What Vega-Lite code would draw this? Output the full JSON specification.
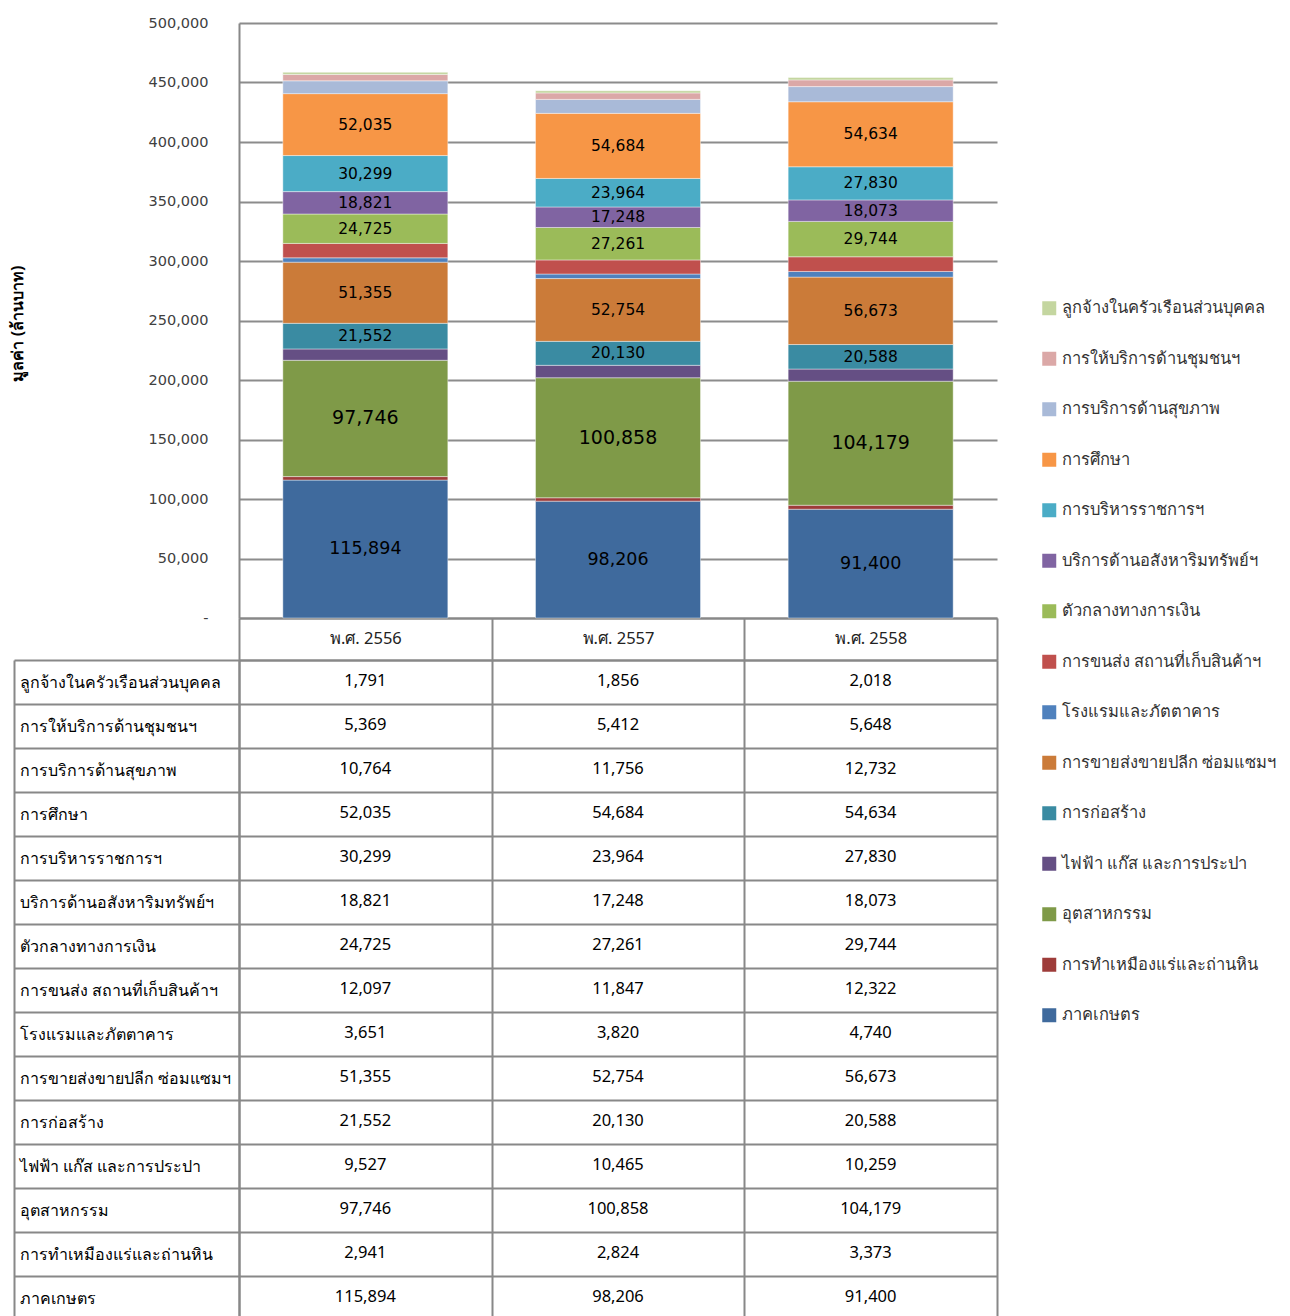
{
  "$schema": "https://vega.github.io/schema/vega-lite/v6.json",
  "padding": {"left": 9, "top": 15, "right": 0, "bottom": 0},
  "background": "white",
  "config": {"view": {"stroke": null}, "font": "Noto Sans"},
  "spacing": -8,
  "datasets": {
    "d": [
      {"year": "พ.ศ. 2556", "k": 1, "cat": "ภาคเกษตร", "v": 115894},
      {"year": "พ.ศ. 2557", "k": 1, "cat": "ภาคเกษตร", "v": 98206},
      {"year": "พ.ศ. 2558", "k": 1, "cat": "ภาคเกษตร", "v": 91400},
      {"year": "พ.ศ. 2556", "k": 2, "cat": "การทำเหมืองแร่และถ่านหิน", "v": 2941},
      {"year": "พ.ศ. 2557", "k": 2, "cat": "การทำเหมืองแร่และถ่านหิน", "v": 2824},
      {"year": "พ.ศ. 2558", "k": 2, "cat": "การทำเหมืองแร่และถ่านหิน", "v": 3373},
      {"year": "พ.ศ. 2556", "k": 3, "cat": "อุตสาหกรรม", "v": 97746},
      {"year": "พ.ศ. 2557", "k": 3, "cat": "อุตสาหกรรม", "v": 100858},
      {"year": "พ.ศ. 2558", "k": 3, "cat": "อุตสาหกรรม", "v": 104179},
      {"year": "พ.ศ. 2556", "k": 4, "cat": "ไฟฟ้า แก๊ส และการประปา", "v": 9527},
      {"year": "พ.ศ. 2557", "k": 4, "cat": "ไฟฟ้า แก๊ส และการประปา", "v": 10465},
      {"year": "พ.ศ. 2558", "k": 4, "cat": "ไฟฟ้า แก๊ส และการประปา", "v": 10259},
      {"year": "พ.ศ. 2556", "k": 5, "cat": "การก่อสร้าง", "v": 21552},
      {"year": "พ.ศ. 2557", "k": 5, "cat": "การก่อสร้าง", "v": 20130},
      {"year": "พ.ศ. 2558", "k": 5, "cat": "การก่อสร้าง", "v": 20588},
      {"year": "พ.ศ. 2556", "k": 6, "cat": "การขายส่งขายปลีก ซ่อมแซมฯ", "v": 51355},
      {"year": "พ.ศ. 2557", "k": 6, "cat": "การขายส่งขายปลีก ซ่อมแซมฯ", "v": 52754},
      {"year": "พ.ศ. 2558", "k": 6, "cat": "การขายส่งขายปลีก ซ่อมแซมฯ", "v": 56673},
      {"year": "พ.ศ. 2556", "k": 7, "cat": "โรงแรมและภัตตาคาร", "v": 3651},
      {"year": "พ.ศ. 2557", "k": 7, "cat": "โรงแรมและภัตตาคาร", "v": 3820},
      {"year": "พ.ศ. 2558", "k": 7, "cat": "โรงแรมและภัตตาคาร", "v": 4740},
      {"year": "พ.ศ. 2556", "k": 8, "cat": "การขนส่ง สถานที่เก็บสินค้าฯ", "v": 12097},
      {"year": "พ.ศ. 2557", "k": 8, "cat": "การขนส่ง สถานที่เก็บสินค้าฯ", "v": 11847},
      {"year": "พ.ศ. 2558", "k": 8, "cat": "การขนส่ง สถานที่เก็บสินค้าฯ", "v": 12322},
      {"year": "พ.ศ. 2556", "k": 9, "cat": "ตัวกลางทางการเงิน", "v": 24725},
      {"year": "พ.ศ. 2557", "k": 9, "cat": "ตัวกลางทางการเงิน", "v": 27261},
      {"year": "พ.ศ. 2558", "k": 9, "cat": "ตัวกลางทางการเงิน", "v": 29744},
      {"year": "พ.ศ. 2556", "k": 10, "cat": "บริการด้านอสังหาริมทรัพย์ฯ", "v": 18821},
      {"year": "พ.ศ. 2557", "k": 10, "cat": "บริการด้านอสังหาริมทรัพย์ฯ", "v": 17248},
      {"year": "พ.ศ. 2558", "k": 10, "cat": "บริการด้านอสังหาริมทรัพย์ฯ", "v": 18073},
      {"year": "พ.ศ. 2556", "k": 11, "cat": "การบริหารราชการฯ", "v": 30299},
      {"year": "พ.ศ. 2557", "k": 11, "cat": "การบริหารราชการฯ", "v": 23964},
      {"year": "พ.ศ. 2558", "k": 11, "cat": "การบริหารราชการฯ", "v": 27830},
      {"year": "พ.ศ. 2556", "k": 12, "cat": "การศึกษา", "v": 52035},
      {"year": "พ.ศ. 2557", "k": 12, "cat": "การศึกษา", "v": 54684},
      {"year": "พ.ศ. 2558", "k": 12, "cat": "การศึกษา", "v": 54634},
      {"year": "พ.ศ. 2556", "k": 13, "cat": "การบริการด้านสุขภาพ", "v": 10764},
      {"year": "พ.ศ. 2557", "k": 13, "cat": "การบริการด้านสุขภาพ", "v": 11756},
      {"year": "พ.ศ. 2558", "k": 13, "cat": "การบริการด้านสุขภาพ", "v": 12732},
      {"year": "พ.ศ. 2556", "k": 14, "cat": "การให้บริการด้านชุมชนฯ", "v": 5369},
      {"year": "พ.ศ. 2557", "k": 14, "cat": "การให้บริการด้านชุมชนฯ", "v": 5412},
      {"year": "พ.ศ. 2558", "k": 14, "cat": "การให้บริการด้านชุมชนฯ", "v": 5648},
      {"year": "พ.ศ. 2556", "k": 15, "cat": "ลูกจ้างในครัวเรือนส่วนบุคคล", "v": 1791},
      {"year": "พ.ศ. 2557", "k": 15, "cat": "ลูกจ้างในครัวเรือนส่วนบุคคล", "v": 1856},
      {"year": "พ.ศ. 2558", "k": 15, "cat": "ลูกจ้างในครัวเรือนส่วนบุคคล", "v": 2018}
    ]
  },
  "vconcat": [
    {
      "width": 758,
      "height": 595,
      "data": {"name": "d"},
      "encoding": {
        "x": {
          "field": "year", "type": "nominal",
          "scale": {"paddingInner": 0.347, "paddingOuter": 0.1735},
          "axis": {"labels": false, "ticks": false, "title": null, "domainColor": "#888888", "domainWidth": 2, "minExtent": 0}
        }
      },
      "layer": [
        {
          "mark": {"type": "bar", "stroke": "#ffffff", "strokeWidth": 0.6, "strokeOpacity": 0.7},
          "encoding": {
            "y": {
              "field": "v", "type": "quantitative", "stack": "zero",
              "scale": {"domain": [0, 500000], "nice": false},
              "axis": {
                "values": [0, 50000, 100000, 150000, 200000, 250000, 300000, 350000, 400000, 450000, 500000],
                "title": "มูลค่า (ล้านบาท)", "titleFontSize": 16, "titleFontWeight": "bold", "titleColor": "#000000",
                "titleX": -214, "titleY": 300,
                "labelFont": "DejaVu Sans", "labelFontSize": 14.5, "labelColor": "#404040", "labelPadding": 31,
                "labelExpr": "datum.value === 0 ? '-\u2007\u2009' : datum.label",
                "ticks": false, "domainColor": "#888888", "domainWidth": 2,
                "grid": true, "gridColor": "#8c8c8c", "gridWidth": 1.8
              }
            },
            "color": {
              "field": "cat", "type": "nominal",
              "scale": {
                "domain": ["ลูกจ้างในครัวเรือนส่วนบุคคล", "การให้บริการด้านชุมชนฯ", "การบริการด้านสุขภาพ", "การศึกษา", "การบริหารราชการฯ", "บริการด้านอสังหาริมทรัพย์ฯ", "ตัวกลางทางการเงิน", "การขนส่ง สถานที่เก็บสินค้าฯ", "โรงแรมและภัตตาคาร", "การขายส่งขายปลีก ซ่อมแซมฯ", "การก่อสร้าง", "ไฟฟ้า แก๊ส และการประปา", "อุตสาหกรรม", "การทำเหมืองแร่และถ่านหิน", "ภาคเกษตร"],
                "range": ["#c4d6a0", "#dba8a7", "#a9bad8", "#f79646", "#4bacc6", "#8064a2", "#9bbb59", "#c0504d", "#4f81bd", "#cb7b39", "#3a8ba2", "#654f84", "#7f9a48", "#9e3c3a", "#3f6a9d"]
              },
              "legend": {
                "orient": "none", "legendX": 802, "legendY": 277, "title": null,
                "symbolType": "square", "symbolSize": 196, "symbolStrokeWidth": 0,
                "labelFontSize": 16.5, "labelColor": "#333333", "labelLimit": 320,
                "rowPadding": 33.5, "labelOffset": 4
              }
            },
            "order": {"field": "k", "type": "quantitative", "sort": "ascending"}
          }
        },
        {
          "mark": {"type": "text", "font": "DejaVu Sans", "color": "#000000"},
          "encoding": {
            "y": {"field": "v", "type": "quantitative", "stack": "zero", "bandPosition": 0.5},
            "detail": {"field": "cat", "type": "nominal"},
            "order": {"field": "k", "type": "quantitative", "sort": "ascending"},
            "text": {
              "condition": {"test": "datum.v > 15000", "field": "v", "type": "quantitative", "format": ","},
              "value": ""
            },
            "size": {
              "condition": [
                {"test": "datum.cat === 'อุตสาหกรรม'", "value": 19},
                {"test": "datum.cat === 'ภาคเกษตร'", "value": 17.5}
              ],
              "value": 15.5
            }
          }
        }
      ]
    },
    {
      "width": 758,
      "height": 660,
      "data": {"name": "d"},
      "resolve": {"scale": {"y": "independent"}, "axis": {"y": "independent"}},
      "layer": [
        {
          "mark": {"type": "text", "font": "Noto Sans", "fontSize": 16.5, "color": "#000000", "dy": -1},
          "encoding": {
            "x": {
              "field": "year", "type": "nominal",
              "scale": {"paddingInner": 0, "paddingOuter": 0},
              "axis": {
                "orient": "top", "title": null, "tickBand": "extent", "tickSize": 42, "tickColor": "#888888", "tickWidth": 2,
                "labelPadding": -20, "labelBaseline": "middle", "labelAngle": 0, "labelFontSize": 16.5, "labelColor": "#222222", "labelFont": "Noto Sans",
                "domainColor": "#888888", "domainWidth": 2,
                "grid": true, "gridColor": "#888888", "gridWidth": 2, "gridOpacity": 1
              }
            },
            "y": {
              "field": "cat", "type": "nominal",
              "sort": ["ลูกจ้างในครัวเรือนส่วนบุคคล", "การให้บริการด้านชุมชนฯ", "การบริการด้านสุขภาพ", "การศึกษา", "การบริหารราชการฯ", "บริการด้านอสังหาริมทรัพย์ฯ", "ตัวกลางทางการเงิน", "การขนส่ง สถานที่เก็บสินค้าฯ", "โรงแรมและภัตตาคาร", "การขายส่งขายปลีก ซ่อมแซมฯ", "การก่อสร้าง", "ไฟฟ้า แก๊ส และการประปา", "อุตสาหกรรม", "การทำเหมืองแร่และถ่านหิน", "ภาคเกษตร"],
              "scale": {"paddingInner": 0, "paddingOuter": 0},
              "axis": {
                "title": null, "tickBand": "extent", "tickSize": 225, "tickColor": "#888888", "tickWidth": 2,
                "labelAlign": "left", "labelPadding": -5, "labelBaseline": "middle", "labelFontSize": 16, "labelColor": "#000000", "labelLimit": 240, "labelFont": "Noto Sans",
                "domainColor": "#888888", "domainWidth": 2,
                "grid": true, "gridColor": "#888888", "gridWidth": 2, "gridOpacity": 1
              }
            },
            "text": {"field": "v", "type": "quantitative", "format": ","}
          }
        },
        {
          "mark": {"type": "text"},
          "encoding": {
            "x": {"field": "year", "type": "nominal"},
            "y": {
              "field": "cat", "type": "nominal",
              "sort": ["ลูกจ้างในครัวเรือนส่วนบุคคล", "การให้บริการด้านชุมชนฯ", "การบริการด้านสุขภาพ", "การศึกษา", "การบริหารราชการฯ", "บริการด้านอสังหาริมทรัพย์ฯ", "ตัวกลางทางการเงิน", "การขนส่ง สถานที่เก็บสินค้าฯ", "โรงแรมและภัตตาคาร", "การขายส่งขายปลีก ซ่อมแซมฯ", "การก่อสร้าง", "ไฟฟ้า แก๊ส และการประปา", "อุตสาหกรรม", "การทำเหมืองแร่และถ่านหิน", "ภาคเกษตร"],
              "axis": {"orient": "left", "offset": 225, "labels": false, "ticks": false, "grid": false, "title": null, "domainColor": "#888888", "domainWidth": 2}
            },
            "text": {"value": ""}
          }
        }
      ]
    }
  ]
}
